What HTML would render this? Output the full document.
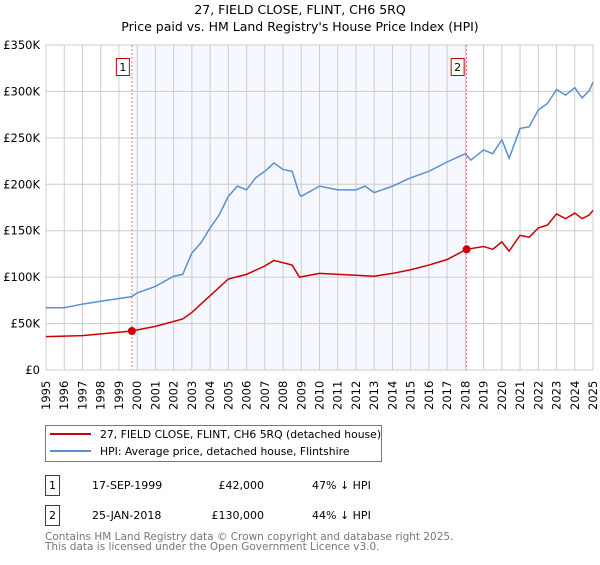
<!DOCTYPE html>
<html><head><meta charset="utf-8"><style>
body{margin:0;background:#fff;font-family:"Liberation Sans","DejaVu Sans",sans-serif;}
svg text{font-family:"DejaVu Sans","Liberation Sans",sans-serif;}
</style></head><body>
<svg id="c" width="600" height="560" xmlns="http://www.w3.org/2000/svg">
<text x="300" y="14" text-anchor="middle" font-size="12.5">27, FIELD CLOSE, FLINT, CH6 5RQ</text>
<text x="300" y="31" text-anchor="middle" font-size="12.5">Price paid vs. HM Land Registry's House Price Index (HPI)</text>
<g id="plot"></g>
<g>
<rect x="45.5" y="425.5" width="336" height="36" fill="#fff" stroke="#777"/>
<line x1="50" y1="434" x2="91" y2="434" stroke="#cc0000" stroke-width="2"/>
<text x="100" y="438" font-size="10.8">27, FIELD CLOSE, FLINT, CH6 5RQ (detached house)</text>
<line x1="50" y1="451" x2="91" y2="451" stroke="#5b8fd0" stroke-width="2"/>
<text x="100" y="455" font-size="10.8">HPI: Average price, detached house, Flintshire</text>
</g>
<g font-size="11">
<rect x="45.5" y="475.5" width="14" height="20" fill="#fff" stroke="#cc0000"/><text x="52.5" y="489" text-anchor="middle">1</text>
<text x="92" y="489">17-SEP-1999</text><text x="264" y="489" text-anchor="end">£42,000</text><text x="312" y="489">47% ↓ HPI</text>
<rect x="45.5" y="505.5" width="14" height="20" fill="#fff" stroke="#cc0000"/><text x="52.5" y="519" text-anchor="middle">2</text>
<text x="92" y="519">25-JAN-2018</text><text x="264" y="519" text-anchor="end">£130,000</text><text x="312" y="519">44% ↓ HPI</text>
</g>
<text x="45" y="540" font-size="10.5" fill="#777">Contains HM Land Registry data © Crown copyright and database right 2025.</text>
<text x="45" y="550" font-size="10.5" fill="#777">This data is licensed under the Open Government Licence v3.0.</text>
</svg>
<script>
const hpiYears=[1995,1996,1997,1998,1999,1999.7,2000,2001,2002,2002.5,2003,2003.5,2004,2004.5,2005,2005.5,2006,2006.5,2007,2007.5,2008,2008.5,2008.9,2009,2010,2011,2012,2012.5,2013,2014,2015,2016,2017,2018,2018.3,2019,2019.5,2020,2020.4,2021,2021.5,2022,2022.5,2023,2023.5,2024,2024.4,2024.8,2025];
const hpiValues=[67,67,71,74,77,79,83,90,101,103,126,137,153,167,187,198,194,207,214,223,216,214,189,187,198,194,194,198,191,198,207,214,224,233,226,237,233,248,228,260,262,280,287,302,296,304,293,301,310];
const priceYears=[1995,1997,1999.7,2001,2002.5,2003,2004,2005,2006,2007,2007.5,2008.5,2008.9,2010,2012,2013,2014,2015,2016,2017,2018.07,2019,2019.5,2020,2020.4,2021,2021.5,2022,2022.5,2023,2023.5,2024,2024.4,2024.8,2025];
const priceValues=[36,37,42,47,55,62,80,98,103,112,118,113,100,104,102,101,104,108,113,119,130,133,130,138,128,145,143,153,156,168,163,169,163,167,172];
const saleYears=[1999.71,2018.07];
const saleValues=[42,130];
const saleLabels=["1","2"];
const yTicks=[0,50,100,150,200,250,300,350];
const xTicks=[1995,1996,1997,1998,1999,2000,2001,2002,2003,2004,2005,2006,2007,2008,2009,2010,2011,2012,2013,2014,2015,2016,2017,2018,2019,2020,2021,2022,2023,2024,2025];
const NS="http://www.w3.org/2000/svg";
const L=46,R=593,T=45,B=370;
const xs=y=>L+(y-1995)/30*(R-L);
const ys=v=>B-v/350*(B-T);
const g=document.getElementById('plot');
function mk(t,a){const e=document.createElementNS(NS,t);for(const k in a)e.setAttribute(k,a[k]);g.appendChild(e);return e;}
const sh=mk('rect',{x:xs(saleYears[0]),y:T,width:xs(saleYears[1])-xs(saleYears[0]),height:B-T,fill:'#f5f8fe'});


xTicks.forEach(t=>{
 const l=mk('line',{x1:xs(t),x2:xs(t),y1:T,y2:B,stroke:'#ccc'});
 
 
 const tx=mk('text',{transform:`translate(${xs(t)+4},${B+40}) rotate(-90)`,'font-size':'11.5'});
 tx.textContent=t;
 
 
});
yTicks.forEach(t=>{
 const l=mk('line',{x1:L,x2:R,y1:ys(t),y2:ys(t),stroke:'#ccc'});
 
 
 const tx=mk('text',{x:L-6,y:ys(t)+4,'text-anchor':'end','font-size':'11.5'});
 tx.textContent=t===0?'£0':'£'+t+'K';
 
 
});
const ax=mk('rect',{x:L,y:T,width:R-L,height:B-T,fill:'none',stroke:'#ccc'});


saleYears.forEach((y,i)=>{
 const l=mk('line',{x1:xs(y),x2:xs(y),y1:T,y2:B,stroke:'#e06060','stroke-dasharray':'2,2','stroke-width':'0.8'});
 
 
 const r=mk('rect',{x:xs(y)-15.5,y:58.5,width:13,height:17,fill:'#fff',stroke:'#cc0000'});
 
 
 const tx=mk('text',{x:xs(y)-9,y:71,'text-anchor':'middle','font-size':'11'});
 tx.textContent=saleLabels[i];
 
 
});
const hp=mk('polyline',{points:hpiYears.map((y,i)=>xs(y)+','+ys(hpiValues[i])).join(' '),fill:'none',stroke:'#5b8fd0','stroke-width':'1.5'});


const pp=mk('polyline',{points:priceYears.map((y,i)=>xs(y)+','+ys(priceValues[i])).join(' '),fill:'none',stroke:'#cc0000','stroke-width':'1.5'});


saleYears.forEach((y,i)=>{
 const c=mk('circle',{cx:xs(y),cy:ys(saleValues[i]),r:4,fill:'#cc0000'});
 
 
});
</script>
</body></html>
